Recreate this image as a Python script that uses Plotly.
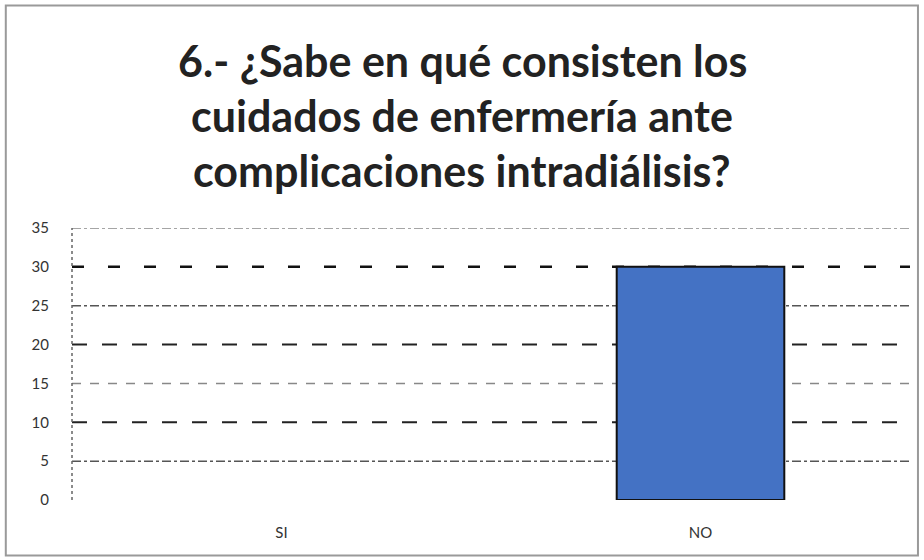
import plotly.graph_objects as go

# Survey answers for question 6
categories = ["SI", "NO"]
counts = [0, 30]

y_ticks = [0, 5, 10, 15, 20, 25, 30, 35]
title_lines = [
    "6.- ¿Sabe en qué consisten los",
    "cuidados de enfermería ante",
    "complicaciones intradiálisis?",
]

fig = go.Figure()
fig.add_trace(go.Bar(
    x=categories,
    y=counts,
    width=0.4,
    marker=dict(color="#4472C4",
                line=dict(color="#111111", width=[0 if c == 0 else 2 for c in counts])),
))

# Horizontal gridlines with alternating dash styles
grid_styles = {
    5: ("#555555", "dashdot", 1.5),
    10: ("#222222", "longdash", 2),
    15: ("#888888", "dash", 1.5),
    20: ("#222222", "longdash", 2),
    25: ("#555555", "dashdot", 1.5),
    30: ("#111111", "12px,24px", 2.5),
    35: ("#888888", "dashdot", 1.5),
}
shapes = []
for v in y_ticks[1:]:
    color, dash, w = grid_styles[v]
    shapes.append(dict(type="line", xref="paper", yref="y", x0=0, x1=1, y0=v, y1=v,
                       line=dict(color=color, width=w, dash=dash), layer="below"))

# Dotted vertical axis line
shapes.append(dict(type="line", xref="paper", yref="paper", x0=0, x1=0, y0=0, y1=1,
                   line=dict(color="#666666", width=1.5, dash="dot"), layer="below"))

# Outer chart border
shapes.append(dict(type="rect", xref="paper", yref="paper",
                   x0=-0.079, x1=1.0095, y0=-0.204, y1=1.818,
                   line=dict(color="#9a9a9a", width=2)))

annotations = []
for i, line in enumerate(title_lines):
    annotations.append(dict(
        text=f"<b>{line}</b>", xref="paper", yref="paper",
        x=0.4654, y=1.614 - i * 0.202, xanchor="center", yanchor="middle",
        showarrow=False,
        font=dict(family="Lato, Liberation Sans, sans-serif", size=43, color="#222222"),
    ))

fig.update_layout(
    width=924, height=560,
    margin=dict(l=72, r=14, t=228, b=60),
    paper_bgcolor="white", plot_bgcolor="white",
    showlegend=False,
    shapes=shapes,
    annotations=annotations,
    bargap=0.6,
    yaxis=dict(range=[0, 35], tickvals=y_ticks, showgrid=False, zeroline=False,
               showline=False, ticks="", ticklabelstandoff=22,
               tickfont=dict(family="Lato, Liberation Sans", size=15, color="#333333")),
    xaxis=dict(showgrid=False, zeroline=False, showline=False, ticks="",
               ticklabelstandoff=22,
               tickfont=dict(family="Lato, Liberation Sans", size=15, color="#333333")),
)

fig.write_html("out.html")
